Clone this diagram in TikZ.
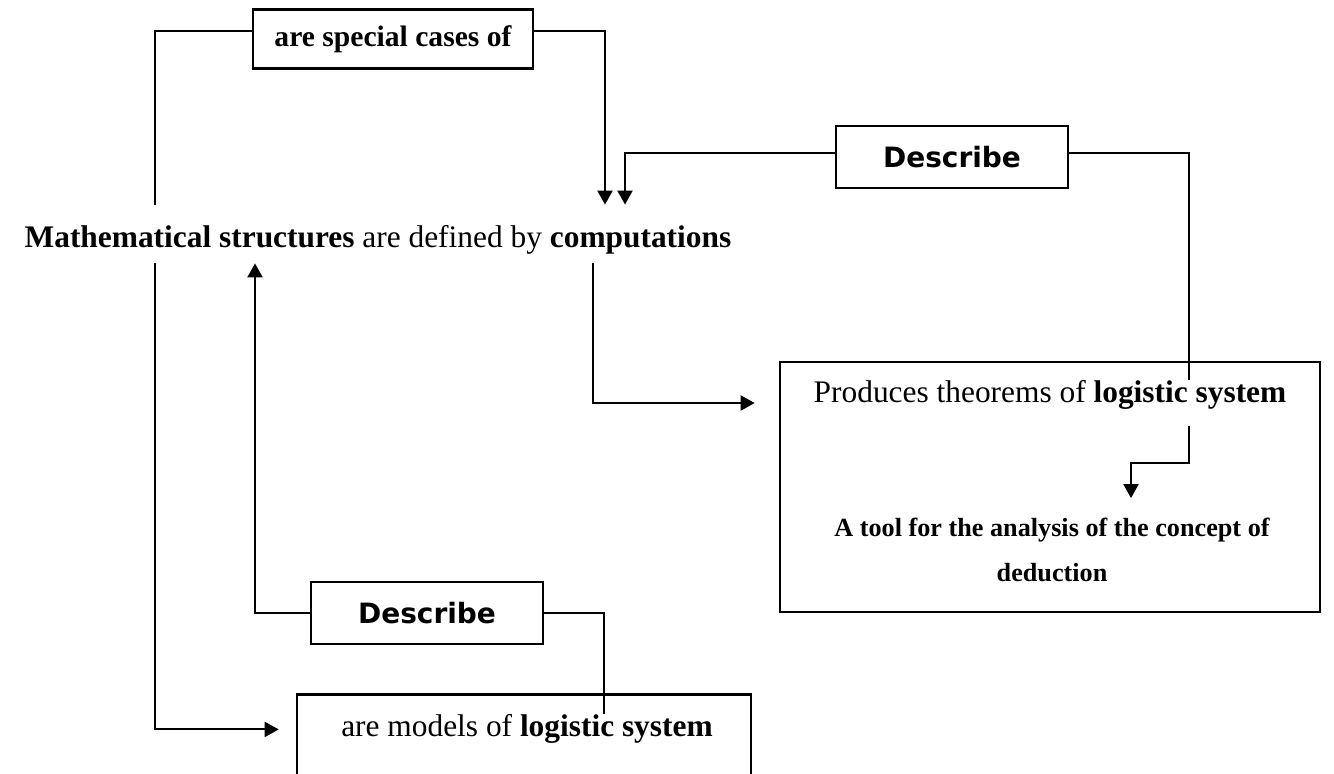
\documentclass[tikz,border=0pt]{standalone}
\usepackage{fontspec}
\setmainfont{Liberation Serif}
\newfontfamily\heavyfont{DejaVu Sans}
\usetikzlibrary{arrows.meta, positioning}

\begin{document}
\begin{tikzpicture}[
x=0.5pt, y=-0.5pt,
relation/.style={rectangle, draw=black, line width=1.3pt, inner sep=0pt, font=\bfseries\fontsize{14.8}{17}\selectfont},
verb/.style={rectangle, draw=black, line width=1.3pt, inner sep=0pt, minimum width=116pt, minimum height=31pt, font=\heavyfont\bfseries\fontsize{14}{16}\selectfont},
concept/.style={rectangle, draw=black, line width=1.3pt},
phrase/.style={inner sep=0pt, font=\fontsize{15.7}{18}\selectfont},
link/.style={line width=1pt},
arrow/.style={link, -{Triangle[length=7pt, width=7.5pt]}}
]
\path[use as bounding box, clip] (0,0) rectangle (1334,774);
% Lanes for the vertical connectors
\coordinate (laneA) at (155,0);
\coordinate (laneB) at (605,0);
\coordinate (laneC) at (625,0);
\coordinate (laneD) at (1189,0);
\coordinate (laneE) at (1131,0);
\coordinate (laneF) at (593,0);
\coordinate (laneG) at (255,0);
\coordinate (laneH) at (604,0);
% The central sentence
\node[phrase, text height=21.5pt, text depth=7.5pt, anchor=base] (defn) at (378,248)
  {\textbf{Mathematical structures} are defined by \textbf{computations}};
% Relation labels
\node[relation, minimum width=140pt, minimum height=29.5pt] (special) at (393,39) {are special cases of};
\node[verb] (describeA) at (952,157) {Describe};
\node[verb] (describeB) at (427,613) {Describe};
% Concept boxes
\node[concept, minimum width=270pt, minimum height=125pt] (produces) at (1050,487) {};
\node[phrase, anchor=base] (prodtxt) at (1050,403) {Produces theorems of \textbf{logistic system}};
\node[phrase, anchor=base, align=center, font=\bfseries\fontsize{13.1}{22.5}\selectfont] (tooltxt) at (1052,582)
  {A tool for the analysis of the concept of\\deduction};
\node[concept, minimum width=227pt, minimum height=52.5pt] (models) at (524,747) {};
\node[phrase, anchor=base] (modtxt) at (527,737) {are models of \textbf{logistic system}};
% Connectors
\draw[link] (defn.north -| laneA) |- ([yshift=4pt]special.west);
\draw[arrow] ([yshift=4pt]special.east) -| (defn.north -| laneB);
\draw[arrow] ([yshift=2pt]describeA.west) -| (defn.north -| laneC);
\draw[link] ([yshift=2pt]describeA.east) -| (prodtxt.north -| laneD);
\draw[arrow, shorten <=8pt] (prodtxt.south -| laneD) -- ++(0,53) -| ([yshift=10pt]tooltxt.north -| laneE);
\draw[arrow, shorten >=12pt] (defn.south -| laneF) |- (produces.west |- prodtxt.base);
\draw[arrow] (describeB.west) -| (defn.south -| laneG);
\draw[link] (describeB.east) -| (modtxt.north -| laneH);
\draw[arrow, shorten >=8.5pt] (defn.south -| laneA) |- (models.west |- modtxt.center);
\end{tikzpicture}
\end{document}
